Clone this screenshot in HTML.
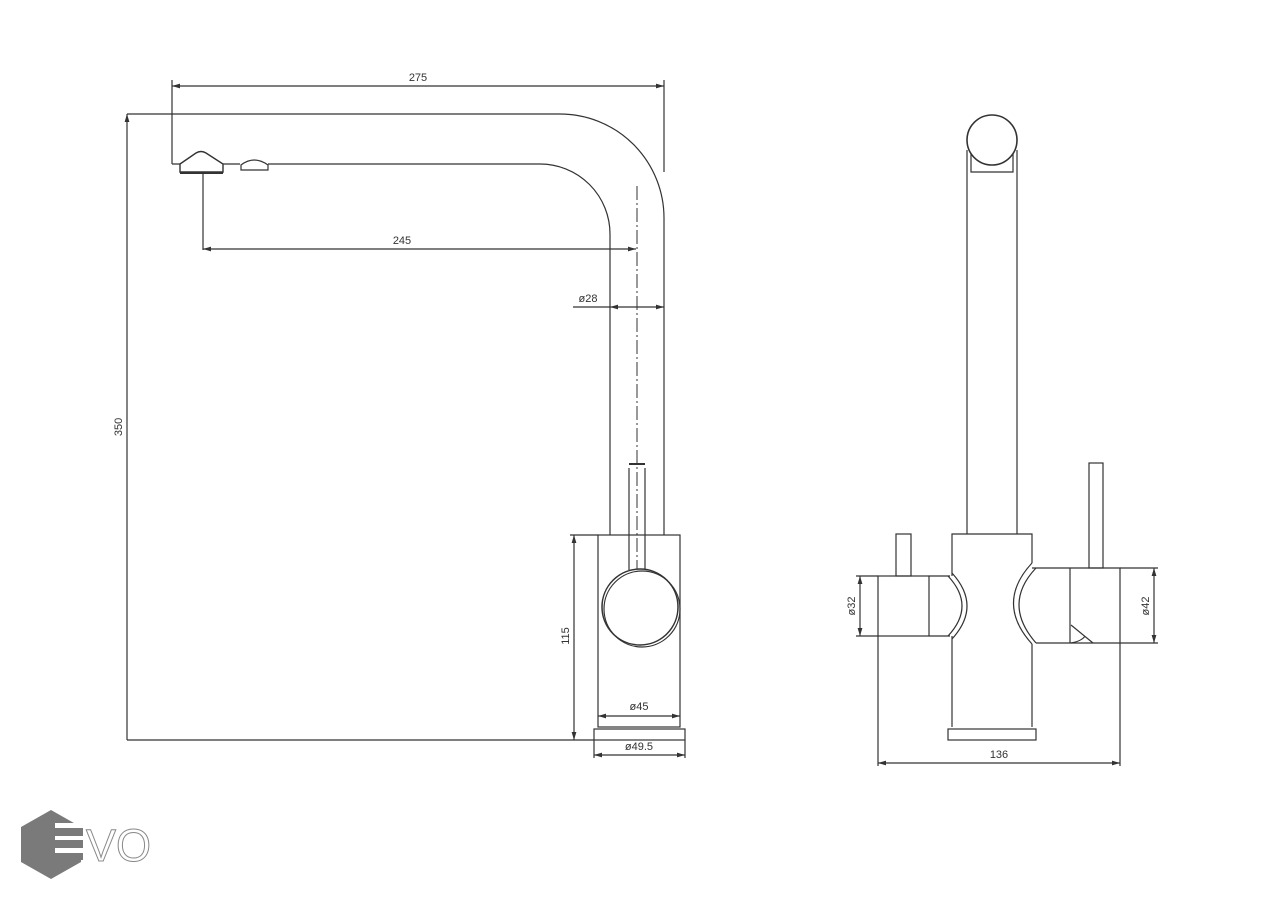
<!DOCTYPE html>
<html><head><meta charset="utf-8"><style>
html,body{margin:0;padding:0;background:#fff;}
svg{display:block;}
text{font-family:"Liberation Sans",sans-serif;font-size:11px;fill:#333;}
</style></head><body>
<svg width="1273" height="900" viewBox="0 0 1273 900" xmlns="http://www.w3.org/2000/svg">
<defs>
<marker id="a" viewBox="0 0 10 6" refX="10" refY="3" markerWidth="8" markerHeight="4" orient="auto-start-reverse"><path d="M0,0L10,3L0,6z" fill="#333"/></marker>
</defs>
<g stroke="#333" stroke-width="1.2" fill="none">
<!-- LEFT VIEW -->
<line x1="172" y1="86" x2="664" y2="86" marker-start="url(#a)" marker-end="url(#a)"/>
<line x1="172" y1="80" x2="172" y2="164"/>
<line x1="664" y1="80" x2="664" y2="172"/>
<path d="M127,114 H560 A104,104 0 0 1 664,218 V535"/>
<path d="M172,164 H180 M223,164 H240 M268,164 H540 A70,70 0 0 1 610,234 V535"/>
<path d="M180,164 L196,153 Q201,150 206,153 L223,164 V172 H180 Z" stroke-width="1.4"/>
<line x1="180" y1="173" x2="223" y2="173" stroke-width="2"/>
<path d="M241,165 Q254,155 268,165 V170 H241 Z"/>
<line x1="203" y1="173" x2="203" y2="250"/>
<line x1="203" y1="249" x2="636" y2="249" marker-start="url(#a)" marker-end="url(#a)"/>
<line x1="637" y1="186" x2="637" y2="578" stroke-dasharray="14,3,2,3" stroke-width="1"/>
<line x1="573" y1="307" x2="610" y2="307"/>
<line x1="610" y1="307" x2="637" y2="307" marker-start="url(#a)"/>
<line x1="637" y1="307" x2="664" y2="307" marker-end="url(#a)"/>
<line x1="127" y1="114" x2="127" y2="740" marker-start="url(#a)"/>
<line x1="127" y1="740" x2="594" y2="740"/>
<rect x="598" y="535" width="82" height="192"/>
<line x1="629" y1="468" x2="629" y2="570"/>
<line x1="645" y1="468" x2="645" y2="570"/>
<line x1="629" y1="464" x2="645" y2="464" stroke-width="2"/>
<circle cx="640" cy="607" r="38" fill="#fff" stroke-width="1.5"/>
<circle cx="642" cy="609" r="38"/>
<rect x="594" y="729" width="91" height="11"/>
<line x1="598" y1="716" x2="680" y2="716" marker-start="url(#a)" marker-end="url(#a)"/>
<line x1="594" y1="740" x2="594" y2="758"/>
<line x1="685" y1="740" x2="685" y2="758"/>
<line x1="594" y1="755" x2="685" y2="755" marker-start="url(#a)" marker-end="url(#a)"/>
<line x1="574" y1="535" x2="574" y2="740" marker-start="url(#a)" marker-end="url(#a)"/>
<line x1="570" y1="535" x2="598" y2="535"/>
<!-- RIGHT VIEW -->
<line x1="967" y1="150" x2="967" y2="534"/>
<line x1="1017" y1="150" x2="1017" y2="534"/>
<path d="M971,150 V172 H1013 V150"/>
<circle cx="992" cy="140" r="25" fill="#fff" stroke-width="1.6"/>
<path d="M952,576 V534 H1032 V563"/>
<path d="M952,636 V727"/>
<path d="M1032,644 V727"/>
<rect x="948" y="729" width="88" height="11"/>
<rect x="896" y="534" width="15" height="42"/>
<rect x="878" y="576" width="51" height="60"/>
<line x1="929" y1="576" x2="950" y2="576"/>
<line x1="929" y1="636" x2="950" y2="636"/>
<path d="M948,576 Q976,606 948,636"/>
<path d="M952,573 Q982,606 952,639"/>
<path d="M1032,563 Q995,603 1032,644"/>
<path d="M1036,568 Q1002,604 1036,643"/>
<path d="M1032,568 H1120 V643 H1036"/>
<line x1="1070" y1="568" x2="1070" y2="643"/>
<rect x="1089" y="463" width="14" height="105"/>
<path d="M1071,625 L1093,643 M1071,643 Q1082,641 1085,636"/>
<line x1="878" y1="636" x2="878" y2="766"/>
<line x1="1120" y1="643" x2="1120" y2="766"/>
<line x1="878" y1="763" x2="1120" y2="763" marker-start="url(#a)" marker-end="url(#a)"/>
<line x1="856" y1="576" x2="878" y2="576"/>
<line x1="856" y1="636" x2="878" y2="636"/>
<line x1="860" y1="576" x2="860" y2="636" marker-start="url(#a)" marker-end="url(#a)"/>
<line x1="1120" y1="568" x2="1158" y2="568"/>
<line x1="1120" y1="643" x2="1158" y2="643"/>
<line x1="1154" y1="568" x2="1154" y2="643" marker-start="url(#a)" marker-end="url(#a)"/>
</g>
<text x="418" y="81" text-anchor="middle">275</text>
<text x="402" y="244" text-anchor="middle">245</text>
<text x="588" y="302" text-anchor="middle">ø28</text>
<text transform="translate(122,427) rotate(-90)" text-anchor="middle">350</text>
<text transform="translate(569,636) rotate(-90)" text-anchor="middle">115</text>
<text x="639" y="710" text-anchor="middle">ø45</text>
<text x="639" y="750" text-anchor="middle">ø49.5</text>
<text x="999" y="758" text-anchor="middle">136</text>
<text transform="translate(855,606) rotate(-90)" text-anchor="middle">ø32</text>
<text transform="translate(1149,606) rotate(-90)" text-anchor="middle">ø42</text>
<!-- logo -->
<polygon points="51,810 81,827 81,862 51,879 21,862 21,827" fill="#7a7a7a"/>
<g fill="#fff">
<rect x="55" y="823" width="30" height="5"/>
<rect x="55" y="836" width="30" height="4"/>
<rect x="55" y="848" width="30" height="5"/>
</g>
<g fill="#7a7a7a">
<rect x="57" y="828" width="26" height="8"/>
<rect x="57" y="840" width="26" height="8"/>
<rect x="57" y="853" width="26" height="7"/>
</g>
<text x="86" y="861" style="font-size:45px;fill:#fff;stroke:#888;stroke-width:1">VO</text>
</svg>
</body></html>
